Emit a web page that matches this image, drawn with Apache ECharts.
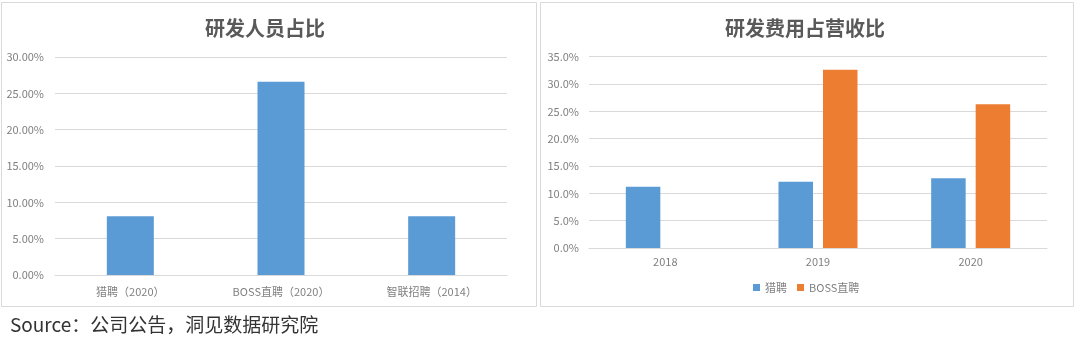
<!DOCTYPE html>
<html><head><meta charset="utf-8">
<script src="https://cdn.jsdelivr.net/npm/echarts@6/dist/echarts.min.js"></script>
<style>html,body{margin:0;padding:0;background:#fff;}#c{width:1080px;height:343px;}</style>
</head><body><div id="c"></div>
<script>
const leftTitle = '研发人员占比';
const leftCategories = ['猎聘（2020）', 'BOSS直聘（2020）', '智联招聘（2014）'];
const leftValues = [8.1, 26.6, 8.1];
const rightTitle = '研发费用占营收比';
const rightCategories = ['2018', '2019', '2020'];
const liepinValues = [11.2, 12.1, 12.75];
const bossValues = [null, 32.6, 26.3];
const seriesNames = ['猎聘', 'BOSS直聘'];
const sourceText = 'Source：公司公告，洞见数据研究院';

const FONT = '"Noto Sans CJK SC", "Noto Sans", sans-serif';
const chart = echarts.init(document.getElementById('c'), null, {renderer: 'canvas'});
const axisLabel = {color: '#7f7f7f', fontSize: 11, fontFamily: FONT};
chart.setOption({
  animation: false,
  textStyle: {fontFamily: FONT},
  title: [
    {text: leftTitle, left: 260, top: 13, textAlign: 'center', textStyle: {fontSize: 20, fontWeight: 'bold', color: '#595959', fontFamily: FONT}},
    {text: rightTitle, left: 800, top: 13, textAlign: 'center', textStyle: {fontSize: 20, fontWeight: 'bold', color: '#595959', fontFamily: FONT}},
    {text: sourceText, left: 5, top: 310, textStyle: {fontSize: 19, fontWeight: 'normal', color: '#333', fontFamily: FONT}}
  ],
  graphic: [
    {type: 'rect', shape: {x: 1.5, y: 2.5, width: 535, height: 304}, style: {fill: 'none', stroke: '#d9d9d9', lineWidth: 1}, z: -1},
    {type: 'rect', shape: {x: 540.5, y: 2.5, width: 533, height: 304}, style: {fill: 'none', stroke: '#d9d9d9', lineWidth: 1}, z: -1}
  ],
  legend: {
    data: seriesNames, left: 748, top: 277,
    itemWidth: 7, itemHeight: 7, itemGap: 10, icon: 'rect',
    textStyle: {color: '#7f7f7f', fontSize: 11, fontFamily: FONT}
  },
  grid: [
    {left: 55, top: 57, width: 452, height: 218},
    {left: 589, top: 56.7, width: 458, height: 191.3}
  ],
  xAxis: [
    {type: 'category', gridIndex: 0, data: leftCategories, axisTick: {show: false},
     axisLine: {lineStyle: {color: '#d9d9d9'}}, axisLabel: Object.assign({}, axisLabel, {margin: 11})},
    {type: 'category', gridIndex: 1, data: rightCategories, axisTick: {show: false},
     axisLine: {lineStyle: {color: '#d9d9d9'}}, axisLabel: Object.assign({}, axisLabel, {margin: 8})}
  ],
  yAxis: [
    {type: 'value', gridIndex: 0, min: 0, max: 30, interval: 5,
     axisLabel: Object.assign({}, axisLabel, {formatter: v => v.toFixed(2) + '%', margin: 11}),
     splitLine: {lineStyle: {color: '#d9d9d9'}}, axisLine: {show: false}, axisTick: {show: false}},
    {type: 'value', gridIndex: 1, min: 0, max: 35, interval: 5,
     axisLabel: Object.assign({}, axisLabel, {formatter: v => v.toFixed(1) + '%', margin: 10}),
     splitLine: {lineStyle: {color: '#d9d9d9'}}, axisLine: {show: false}, axisTick: {show: false}}
  ],
  series: [
    {type: 'bar', xAxisIndex: 0, yAxisIndex: 0, data: leftValues, barWidth: 47, itemStyle: {color: '#5B9BD5'}},
    {name: seriesNames[0], type: 'bar', xAxisIndex: 1, yAxisIndex: 1, data: liepinValues, barWidth: 34.5, barGap: '29%', itemStyle: {color: '#5B9BD5'}},
    {name: seriesNames[1], type: 'bar', xAxisIndex: 1, yAxisIndex: 1, data: bossValues, barWidth: 34.5, barGap: '29%', itemStyle: {color: '#ED7D31'}}
  ]
});
</script></body></html>
